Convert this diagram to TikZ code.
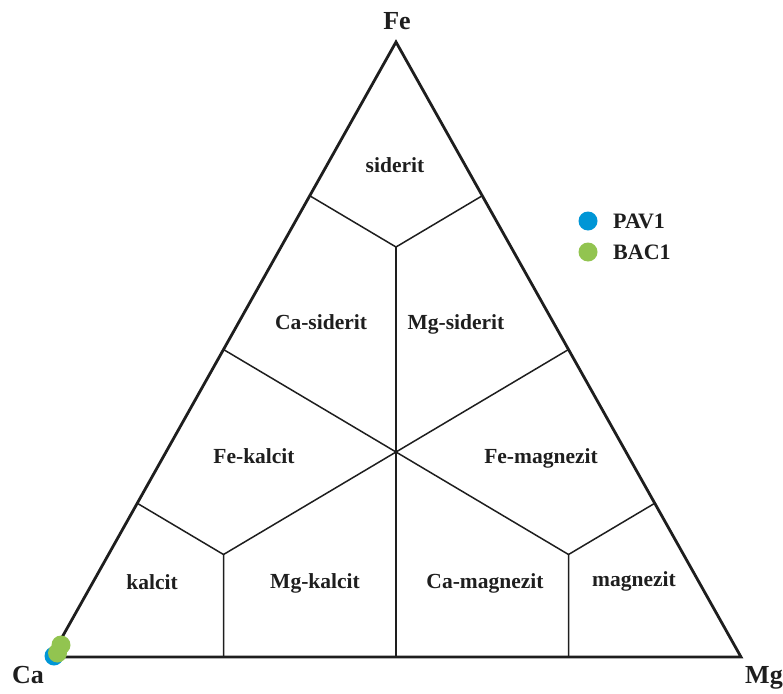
\documentclass[tikz,border=0pt]{standalone}
\usepackage{fontspec}
\setmainfont{Liberation Serif}
\usetikzlibrary{calc}
\definecolor{dotblue}{HTML}{0096D6}
\definecolor{dotgreen}{HTML}{92C450}
\definecolor{ink}{HTML}{1E1E1E}
\tikzset{
  frame/.style={line width=2.8pt, line join=miter, ink},
  inner/.style={line width=1.5pt, ink},
  region/.style={font=\bfseries\fontsize{21.5}{23}\selectfont, inner sep=0pt, text=ink,
                 anchor=base},
  vertex/.style={font=\bfseries\fontsize{26}{28}\selectfont, inner sep=0pt, anchor=base, text=ink},
  legend/.style={font=\bfseries\fontsize{22}{24}\selectfont, inner sep=0pt, anchor=base west, text=ink},
  sample/.style={circle, inner sep=0pt, minimum size=19pt}
}
\begin{document}
\begin{tikzpicture}[x=1pt,y=-1pt]
\useasboundingbox (0,0) rectangle (783,693);
% corners and construction points
\coordinate (Ca) at (51,657);
\coordinate (Mg) at (741,657);
\coordinate (Fe) at (396,42);
\coordinate (G) at (396,452);
\coordinate (mL) at ($(Ca)!0.5!(Fe)$);
\coordinate (mR) at ($(Mg)!0.5!(Fe)$);
\coordinate (mB) at ($(Ca)!0.5!(Mg)$);
\coordinate (jFe) at ($(Fe)!0.5!(G)$);
\coordinate (jCa) at ($(Ca)!0.5!(G)$);
\coordinate (jMg) at ($(Mg)!0.5!(G)$);
\coordinate (lf75) at ($(Ca)!0.75!(Fe)$);
\coordinate (rf75) at ($(Mg)!0.75!(Fe)$);
\coordinate (lf25) at ($(Ca)!0.25!(Fe)$);
\coordinate (rf25) at ($(Mg)!0.25!(Fe)$);
\coordinate (b25) at ($(Ca)!0.25!(Mg)$);
\coordinate (b75) at ($(Ca)!0.75!(Mg)$);
% inner boundaries
\draw[inner] (G) -- (mL);
\draw[inner] (G) -- (mR);
\draw[inner] (G) -- (mB);
\draw[inner] (G) -- (jFe);
\draw[inner] (lf75) -- (jFe) -- (rf75);
\draw[inner] (G) -- (jCa);
\draw[inner] (lf25) -- (jCa) -- (b25);
\draw[inner] (G) -- (jMg);
\draw[inner] (rf25) -- (jMg) -- (b75);
% frame
\draw[frame] (Ca) -- (Mg) -- (Fe) -- cycle;
% region labels (baselines)
\node[region] (l1) at (395,172) {siderit};
\node[region] (l2) at (321,329) {Ca-siderit};
\node[region] (l3) at (456,329) {Mg-siderit};
\node[region] (l4) at (254,463) {Fe-kalcit};
\node[region] (l5) at (541,463) {Fe-magnezit};
\node[region] (l6) at (152,589) {kalcit};
\node[region] (l7) at (315,588) {Mg-kalcit};
\node[region] (l8) at (485,588) {Ca-magnezit};
\node[region] (l9) at (634,586) {magnezit};
% vertex labels
\node[vertex] (tFe) at (397,30) {Fe};
\node[vertex] (tCa) at (28,683) {Ca};
\node[vertex] (tMg) at (764,683) {Mg};
% legend
\node[sample, fill=dotblue] (kb) at (588,221) {};
\node[sample, fill=dotgreen] (kg) at (588,252) {};
\node[legend] (tb) at (613,228) {PAV1};
\node[legend] (tg) at (613,259) {BAC1};
% samples
\node[sample, fill=dotblue] (s1) at (54,656) {};
\node[sample, fill=dotgreen] (s2) at (57.5,653) {};
\node[sample, fill=dotgreen] (s3) at (61,645) {};
\end{tikzpicture}
\end{document}
